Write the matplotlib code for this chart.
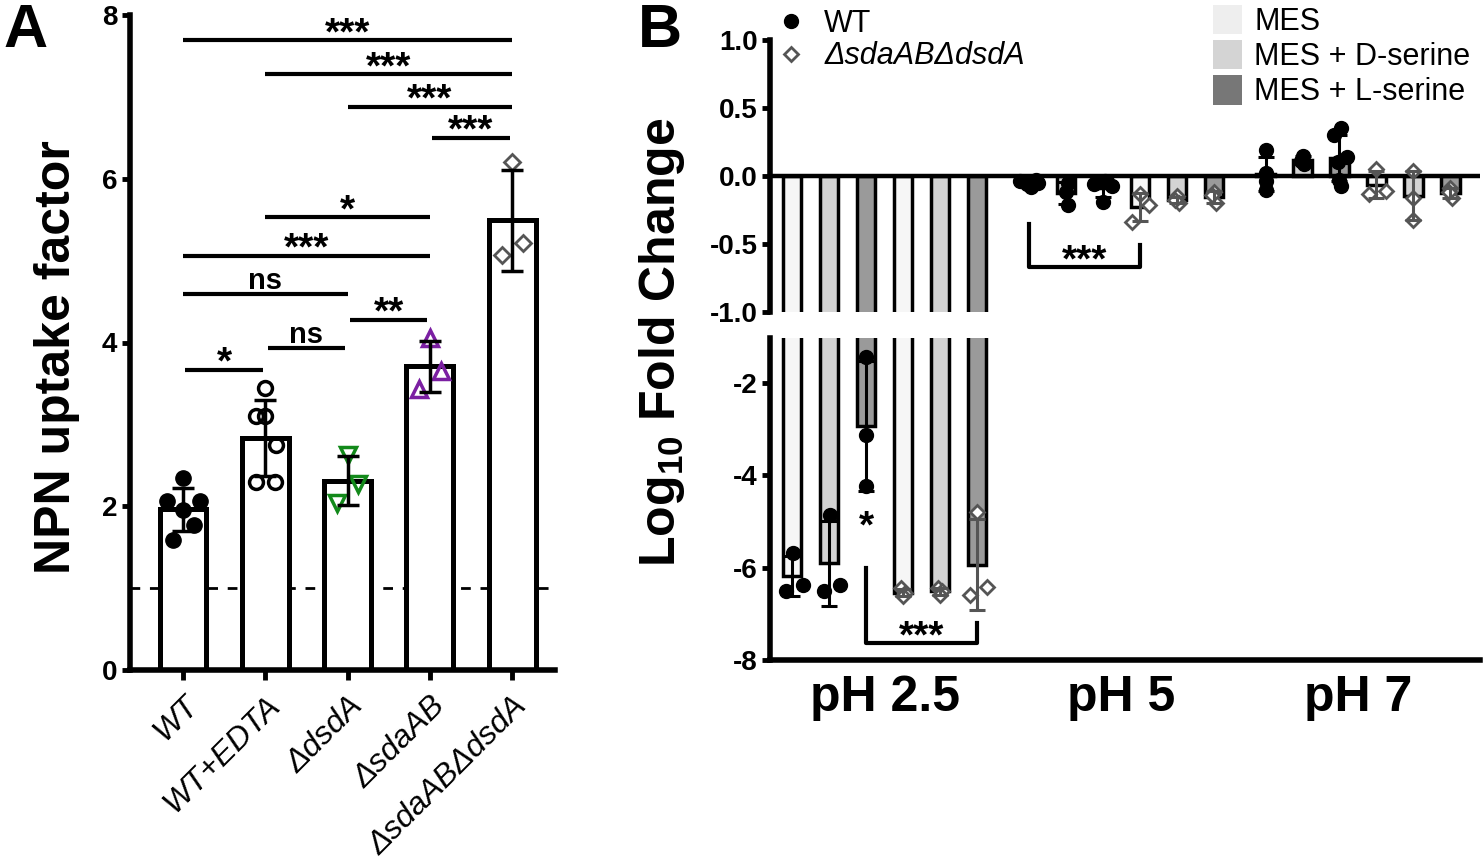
import numpy as np
import matplotlib
matplotlib.use('Agg')
import matplotlib.pyplot as plt
from matplotlib.lines import Line2D
from matplotlib.patches import Patch
from matplotlib.transforms import ScaledTranslation

plt.rcParams['font.family'] = ['Liberation Sans', 'DejaVu Sans']
plt.rcParams['axes.unicode_minus'] = False
plt.rcParams['mathtext.fontset'] = 'custom'
plt.rcParams['mathtext.rm'] = 'Liberation Sans:bold'

W, H = 1484, 867

# ---------------- panel A : NPN uptake factor ----------------
strains = ['WT', 'WT+EDTA', 'ΔdsdA', 'ΔsdaAB', 'ΔsdaABΔdsdA']
npn_wt = [2.34, 2.07, 2.07, 1.95, 1.77, 1.59]
npn_edta = [3.45, 3.10, 3.10, 2.75, 2.30, 2.30]
npn_dsda = [2.63, 2.27, 2.04]
npn_sdaab = [4.05, 3.65, 3.43]
npn_double = [6.20, 5.21, 5.07]
# horizontal scatter of the replicate points
jit_wt = [0, -0.19, 0.21, 0, 0.13, -0.12]
jit_edta = [0, -0.11, 0, 0.13, -0.11, 0.12]
jit_three = [0, 0.13, -0.13]
# (group, group, label, height of the line)
sig_pairs = [(0, 4, '***', 7.69), (1, 4, '***', 7.28), (2, 4, '***', 6.88),
             (3, 4, '***', 6.50), (1, 3, '*', 5.53), (0, 3, '***', 5.06),
             (0, 2, 'ns', 4.59), (2, 3, '**', 4.28), (1, 2, 'ns', 3.93),
             (0, 1, '*', 3.67)]

# ---------------- panel B : log10 fold change ----------------
ph_labels = ['pH 2.5', 'pH 5', 'pH 7']
media = ['MES', 'MES + D-serine', 'MES + L-serine']
# one list per medium: MES, MES + D-serine, MES + L-serine
wt_ph25 = [[-5.68, -6.50, -6.37], [-4.86, -6.50, -6.37], [-1.44, -3.13, -4.23]]
mut_ph25 = [[-6.45, -6.55, -6.62], [-6.45, -6.50, -6.60], [-4.79, -6.59, -6.42]]
wt_ph5 = [[-0.04, -0.03, -0.06, -0.08, -0.05], [-0.05, -0.12, -0.21], [-0.06, -0.04, -0.07, -0.19]]
mut_ph5 = [[-0.135, -0.21, -0.34], [-0.15, -0.20, -0.18], [-0.12, -0.20, -0.14]]
wt_ph7 = [[0.19, 0.02, -0.04, -0.10], [0.15, 0.11, 0.09], [0.35, 0.30, 0.14, 0.10, -0.03, -0.07]]
mut_ph7 = [[0.05, -0.135, -0.11], [0.04, -0.16, -0.32], [-0.09, -0.16, -0.12]]

jit_wt_ph25 = [[0.03, -0.17, 0.3], [0.03, -0.15, 0.3], [0, 0, 0]]
jit_mut_ph25 = [[-0.05, 0.05, 0], [-0.05, 0.05, 0], [0, -0.2, 0.27]]
jit_wt_ph5 = [[-0.25, 0.2, -0.05, 0.05, 0.25], [0.05, 0, 0.05], [-0.25, 0.05, 0.25, 0]]
jit_mut_ph5 = [[0, 0.25, -0.2], [0, 0.05, -0.05], [0, 0.05, -0.05]]
jit_wt_ph7 = [[0, 0, 0, 0], [0, -0.05, 0.05], [0.05, -0.15, 0.2, -0.05, 0, 0.05]]
jit_mut_ph7 = [[0, -0.2, 0.25], [0, 0, 0], [0, 0.05, -0.05]]


def frac(x0, y0, x1, y1):
    return [x0 / W, 1 - y1 / H, (x1 - x0) / W, (y1 - y0) / H]


def stars(ax, text, x, y):
    # asterisks sitting on top of a significance line
    ax.annotate(text, (x, y), xytext=(0, -3), textcoords='offset points',
                ha='center', va='baseline', fontsize=28, fontweight='bold')


fig = plt.figure(figsize=(W / 100, H / 100), dpi=100)

# ======================= A =======================
axA = fig.add_axes(frac(130, 15, 555, 670))
groups_a = [npn_wt, npn_edta, npn_dsda, npn_sdaab, npn_double]
jits_a = [jit_wt, jit_edta, jit_three, jit_three, jit_three]
means_a = [np.mean(g) for g in groups_a]
sds_a = [np.std(g, ddof=1) for g in groups_a]
xa = np.arange(len(strains))

axA.axhline(1, color='black', lw=2, ls=(0, (3.5, 3.5)), zorder=0)
axA.bar(xa, means_a, width=0.57, color='white', edgecolor='black', lw=3.6, zorder=2)
styles_a = [dict(marker='o', mfc='black', mec='black', ms=11),
            dict(marker='o', mfc='none', mec='black', ms=10, mew=2.5),
            dict(marker='v', mfc='none', mec='#12891a', ms=11, mew=2.5),
            dict(marker='^', mfc='none', mec='#7b1fa2', ms=11, mew=2.5),
            dict(marker='D', mfc='none', mec='#555555', ms=8, mew=2)]
for i, (vals, jit, st) in enumerate(zip(groups_a, jits_a, styles_a)):
    axA.plot(i + np.array(jit), vals, ls='none', zorder=3, **st)
axA.errorbar(xa, means_a, yerr=sds_a, fmt='none', ecolor='black',
             elinewidth=2.5, capsize=8, capthick=2.5, zorder=4)

for i, j, lab, h in sig_pairs:
    x0, x1 = (i + 0.03, j - 0.03) if j - i == 1 else (i, j)
    axA.plot([x0, x1], [h, h], color='black', lw=3, solid_capstyle='butt')
    if lab == 'ns':
        axA.annotate(lab, ((x0 + x1) / 2, h), xytext=(0, 4), textcoords='offset points',
                     ha='center', va='baseline', fontsize=21, fontweight='bold')
    else:
        stars(axA, lab, (x0 + x1) / 2, h)

axA.set_xlim(-0.644, 4.52)
axA.set_ylim(0, 8)
axA.set_yticks([0, 2, 4, 6, 8])
axA.set_yticklabels(['0', '2', '4', '6', '8'], fontsize=20, fontweight='bold')
axA.set_xticks(xa)
axA.set_xticklabels(strains, rotation=45, ha='right', va='top', rotation_mode='anchor',
                    fontsize=23, fontstyle='italic')
for lab in axA.get_xticklabels():
    lab.set_transform(lab.get_transform() + ScaledTranslation(3 / 72, 0, fig.dpi_scale_trans))
for s in ['top', 'right']:
    axA.spines[s].set_visible(False)
for s in ['left', 'bottom']:
    axA.spines[s].set_linewidth(4)
axA.tick_params(axis='y', width=3.5, length=6, pad=3)
axA.tick_params(axis='x', width=3.5, length=7, pad=8)

fig.text(57 / W, 1 - 357 / H, 'NPN uptake factor', rotation=90, fontsize=36,
         fontweight='bold', ha='center', va='center')
fig.text(3 / W, 1 - 3 / H, 'A', fontsize=44, fontweight='bold', ha='left', va='top')

# ======================= B =======================
axB1 = fig.add_axes(frac(770, 40, 1480, 312))
axB2 = fig.add_axes(frac(770, 338, 1480, 660))

group_x = [0, 6.4, 12.8]
bar_fills = ['#f6f6f6', '#d3d3d3', '#9a9a9a']
legend_fills = ['#eeeeee', '#d4d4d4', '#777777']
wt_sets = [wt_ph25, wt_ph5, wt_ph7]
mut_sets = [mut_ph25, mut_ph5, mut_ph7]
wt_jits = [jit_wt_ph25, jit_wt_ph5, jit_wt_ph7]
mut_jits = [jit_mut_ph25, jit_mut_ph5, jit_mut_ph7]


def draw_b(ax):
    for g, gx in enumerate(group_x):
        for k, (sets, jits) in enumerate([(wt_sets, wt_jits), (mut_sets, mut_jits)]):
            for m in range(3):
                vals = sets[g][m]
                x = gx + 3 * k + m
                mean = np.mean(vals)
                sd = np.std(vals, ddof=1)
                ax.bar(x, mean, width=0.5, color=bar_fills[m], edgecolor='black',
                       lw=2.5, zorder=2)
                if k == 0:
                    ax.plot(x + np.array(jits[g][m]), vals, ls='none', marker='o',
                            color='black', ms=10, zorder=3)
                    ec = 'black'
                else:
                    ax.plot(x + np.array(jits[g][m]), vals, ls='none', marker='D',
                            mfc='white', mec='#555555', ms=7.5, mew=2, zorder=3)
                    ec = '#555555'
                ax.errorbar(x, mean, yerr=sd, fmt='none', ecolor=ec, elinewidth=2.2,
                            capsize=6, capthick=2.2, zorder=4)


draw_b(axB1)
draw_b(axB2)
axB1.axhline(0, color='black', lw=3.2, zorder=2.5)

for ax in (axB1, axB2):
    ax.set_xlim(-0.6, 18.6)
    for s in ['top', 'right']:
        ax.spines[s].set_visible(False)
    ax.spines['left'].set_linewidth(4)
    ax.tick_params(axis='y', width=3.5, length=6, pad=3)
axB1.spines['bottom'].set_visible(False)
axB1.set_ylim(-1, 1)
axB1.set_yticks([-1, -0.5, 0, 0.5, 1])
axB1.set_yticklabels(['-1.0', '-0.5', '0.0', '0.5', '1.0'], fontsize=20, fontweight='bold')
axB1.set_xticks([])

axB2.spines['bottom'].set_linewidth(4)
axB2.set_ylim(-8, -1.03)
axB2.set_yticks([-8, -6, -4, -2])
axB2.set_yticklabels(['-8', '-6', '-4', '-2'], fontsize=20, fontweight='bold')
axB2.set_xticks([gx + 2.5 for gx in group_x])
axB2.set_xticklabels(ph_labels, fontsize=36, fontweight='bold')
axB2.tick_params(axis='x', length=0, pad=11)

# significance marks
axB2.annotate('*', (2, -4.99), xytext=(0, -12), textcoords='offset points',
              ha='center', va='baseline', fontsize=28, fontweight='bold')
axB2.plot([2, 2, 5, 5], [-6.0, -7.63, -7.63, -7.2], color='black', lw=3)
stars(axB2, '***', 3.5, -7.63)
axB1.plot([6.4, 6.4, 9.4, 9.4], [-0.35, -0.67, -0.67, -0.51], color='black', lw=3)
stars(axB1, '***', 7.9, -0.67)

fig.text(662 / W, 1 - 342 / H, r'Log$_\mathrm{10}$ Fold Change', rotation=90, fontsize=36,
         fontweight='bold', ha='center', va='center')
fig.text(638 / W, 1 - 3 / H, 'B', fontsize=44, fontweight='bold', ha='left', va='top')

h1 = [Line2D([], [], ls='none', marker='o', color='black', ms=10),
      Line2D([], [], ls='none', marker='D', mfc='white', mec='#555555', ms=7, mew=2)]
leg1 = fig.legend(h1, ['WT', 'ΔsdaABΔdsdA'], loc='upper left',
                  bbox_to_anchor=(780 / W, 1 - 9 / H), frameon=False, fontsize=22,
                  handlelength=0.7, handletextpad=0.75, labelspacing=0.08,
                  borderpad=0, borderaxespad=0)
leg1.get_texts()[1].set_fontstyle('italic')
h2 = [Patch(facecolor=c, edgecolor='none') for c in legend_fills]
fig.legend(h2, media, loc='upper left', bbox_to_anchor=(1213 / W, 1 - 5 / H),
           frameon=False, fontsize=22, handlelength=0.95, handleheight=1.1,
           handletextpad=0.4, labelspacing=0.1, borderpad=0, borderaxespad=0)

fig.savefig('out.png', dpi=100)
